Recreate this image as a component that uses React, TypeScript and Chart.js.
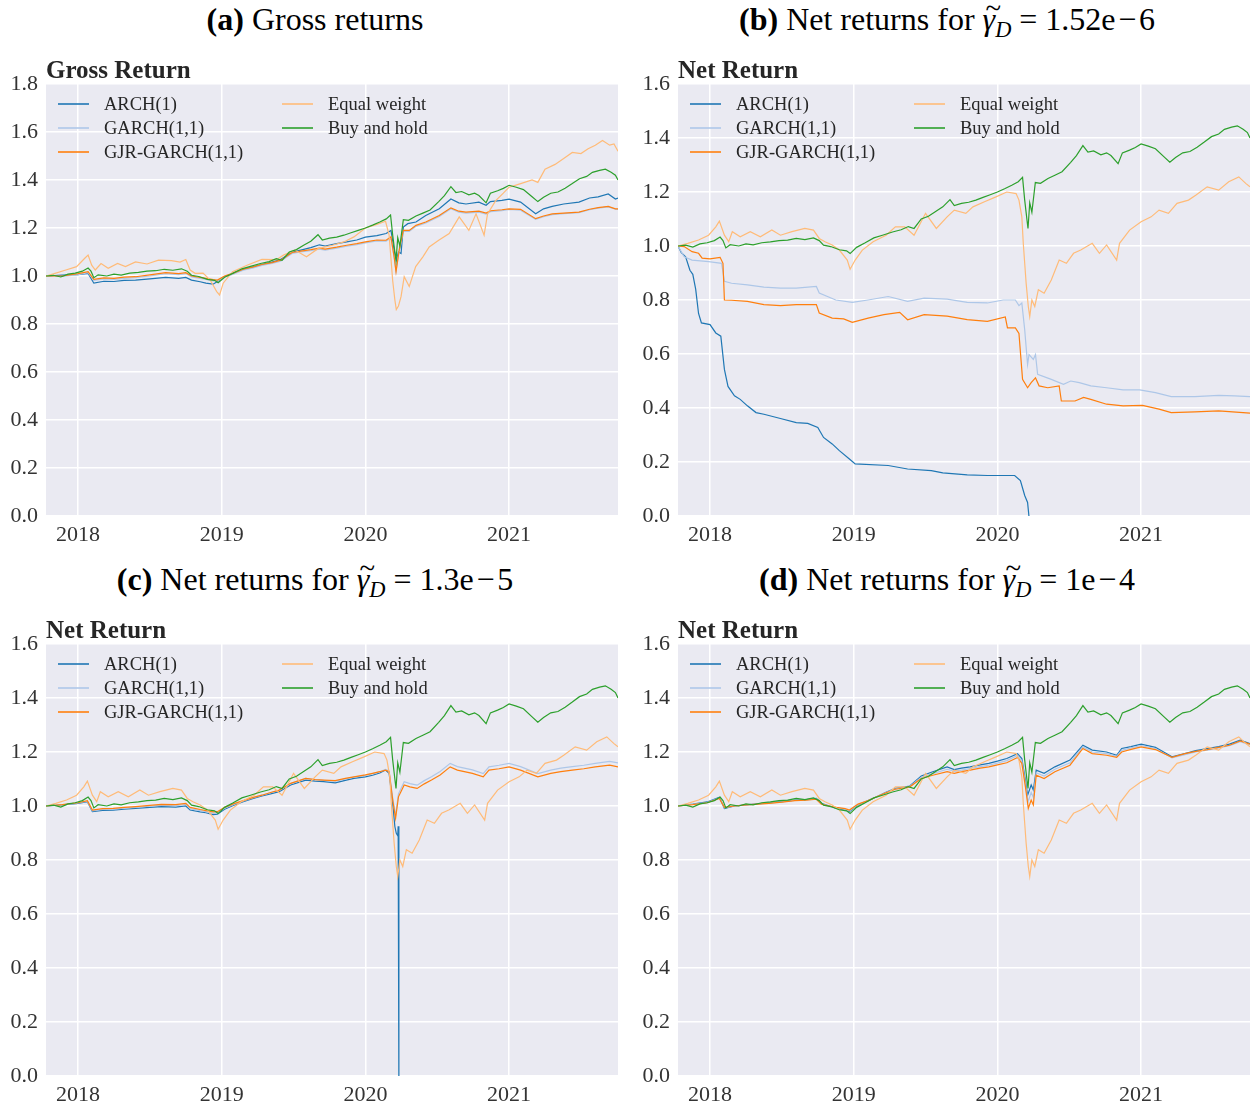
import React, { useEffect, useRef } from "react";
import { Chart, registerables } from "chart.js";

Chart.register(...registerables);

type Pt = [number, number];

const SERIF = '"Liberation Serif", "DejaVu Serif", serif';

// ---------- axis data ----------
const yearTicks = [2018, 2019, 2020, 2021];
const xMin = 2017.777;
const xMax = 2021.758;
const yTicksGross = [0, 0.2, 0.4, 0.6, 0.8, 1.0, 1.2, 1.4, 1.6, 1.8];
const yTicksNet = [0, 0.2, 0.4, 0.6, 0.8, 1.0, 1.2, 1.4, 1.6];

const seriesLabels = ["ARCH(1)", "GARCH(1,1)", "GJR-GARCH(1,1)", "Equal weight", "Buy and hold"];
const seriesColors = ["#1f77b4", "#aec7e8", "#ff7f0e", "#ffbb78", "#2ca02c"];

const panelLetters = ["(a)", "(b)", "(c)", "(d)"];
const panelGammas = ["", "1.52e\u200a\u2212\u200a6", "1.3e\u200a\u2212\u200a5", "1e\u200a\u2212\u200a4"];
const innerTitles = ["Gross Return", "Net Return", "Net Return", "Net Return"];

// ---------- series data: [year, value] ----------
const buyHold: Pt[] = [
  [2017.777, 1.0], [2017.83, 1.003], [2017.88, 0.996], [2017.93, 1.008], [2017.98, 1.012], [2018.03, 1.02],
  [2018.07, 1.033], [2018.09, 1.02], [2018.11, 0.993], [2018.14, 1.005], [2018.2, 1.0], [2018.25, 1.008],
  [2018.3, 1.004], [2018.36, 1.012], [2018.42, 1.015], [2018.48, 1.02], [2018.54, 1.022], [2018.6, 1.028],
  [2018.66, 1.024], [2018.72, 1.03], [2018.76, 1.02], [2018.79, 1.003], [2018.84, 0.998], [2018.9, 0.986],
  [2018.95, 0.982], [2018.975, 0.972], [2019.02, 0.995], [2019.08, 1.012], [2019.14, 1.03], [2019.2, 1.04],
  [2019.27, 1.052], [2019.33, 1.06], [2019.38, 1.072], [2019.42, 1.065], [2019.47, 1.1], [2019.52, 1.11],
  [2019.57, 1.128], [2019.62, 1.145], [2019.67, 1.172], [2019.7, 1.15], [2019.75, 1.158], [2019.8, 1.162],
  [2019.85, 1.17], [2019.9, 1.18], [2019.95, 1.19], [2020.0, 1.2], [2020.05, 1.212], [2020.1, 1.225],
  [2020.145, 1.238], [2020.175, 1.254], [2020.19, 1.17], [2020.205, 1.1], [2020.213, 1.065], [2020.225, 1.16],
  [2020.24, 1.125], [2020.264, 1.235], [2020.3, 1.232], [2020.352, 1.25], [2020.4, 1.262], [2020.45, 1.275],
  [2020.51, 1.31], [2020.55, 1.335], [2020.595, 1.372], [2020.63, 1.348], [2020.67, 1.352], [2020.72, 1.338],
  [2020.76, 1.345], [2020.79, 1.335], [2020.84, 1.305], [2020.87, 1.345], [2020.92, 1.355], [2020.96, 1.365],
  [2021.0, 1.378], [2021.05, 1.37], [2021.1, 1.36], [2021.16, 1.33], [2021.2, 1.31], [2021.24, 1.328],
  [2021.29, 1.345], [2021.34, 1.35], [2021.39, 1.366], [2021.44, 1.385], [2021.49, 1.405], [2021.54, 1.415],
  [2021.58, 1.432], [2021.63, 1.44], [2021.67, 1.445], [2021.71, 1.432], [2021.74, 1.42], [2021.758, 1.4],
];

const equalGross: Pt[] = [
  [2017.777, 1.0], [2017.84, 1.011], [2017.915, 1.025], [2017.99, 1.039], [2018.045, 1.073], [2018.07, 1.087],
  [2018.095, 1.045], [2018.12, 1.025], [2018.16, 1.052], [2018.21, 1.032], [2018.275, 1.052], [2018.33, 1.039],
  [2018.4, 1.059], [2018.48, 1.05], [2018.56, 1.066], [2018.65, 1.064], [2018.71, 1.058], [2018.75, 1.069],
  [2018.78, 1.025], [2018.815, 1.011], [2018.87, 1.012], [2018.92, 0.983], [2018.965, 0.935], [2018.985, 0.921],
  [2019.01, 0.97], [2019.075, 1.018], [2019.18, 1.046], [2019.28, 1.069], [2019.38, 1.068], [2019.43, 1.087],
  [2019.51, 1.108], [2019.59, 1.08], [2019.67, 1.114], [2019.77, 1.128], [2019.85, 1.142], [2019.92, 1.163],
  [2020.0, 1.2], [2020.08, 1.215], [2020.14, 1.228], [2020.165, 1.17], [2020.19, 0.98], [2020.205, 0.9],
  [2020.215, 0.86], [2020.23, 0.875], [2020.248, 0.914], [2020.27, 0.997], [2020.305, 0.956], [2020.35, 1.039],
  [2020.4, 1.08], [2020.444, 1.121], [2020.51, 1.149], [2020.583, 1.177], [2020.653, 1.246], [2020.72, 1.19],
  [2020.77, 1.259], [2020.826, 1.17], [2020.85, 1.259], [2020.907, 1.314], [2020.96, 1.345], [2021.0, 1.37],
  [2021.07, 1.383], [2021.16, 1.4], [2021.2, 1.39], [2021.25, 1.445], [2021.32, 1.465], [2021.38, 1.49],
  [2021.44, 1.515], [2021.5, 1.51], [2021.55, 1.53], [2021.6, 1.545], [2021.65, 1.565], [2021.7, 1.545],
  [2021.73, 1.55], [2021.758, 1.52],
];

const equalNet: Pt[] = [
  [2017.777, 1.0], [2017.845, 1.01], [2017.92, 1.022], [2017.99, 1.04], [2018.04, 1.071], [2018.065, 1.092],
  [2018.1, 1.04], [2018.13, 1.016], [2018.155, 1.053], [2018.21, 1.034], [2018.28, 1.053], [2018.35, 1.034],
  [2018.43, 1.059], [2018.49, 1.04], [2018.57, 1.053], [2018.66, 1.065], [2018.72, 1.059], [2018.76, 1.028],
  [2018.8, 1.016], [2018.85, 1.004], [2018.9, 0.985], [2018.955, 0.948], [2018.975, 0.914], [2019.01, 0.948],
  [2019.06, 0.985], [2019.135, 1.016], [2019.225, 1.04], [2019.29, 1.071], [2019.355, 1.071], [2019.42, 1.04],
  [2019.5, 1.121], [2019.575, 1.065], [2019.65, 1.108], [2019.7, 1.133], [2019.78, 1.121], [2019.83, 1.145],
  [2019.91, 1.164], [2019.99, 1.182], [2020.065, 1.2], [2020.13, 1.194], [2020.15, 1.17], [2020.17, 1.108],
  [2020.18, 1.01], [2020.2, 0.862], [2020.215, 0.776], [2020.225, 0.739], [2020.24, 0.8], [2020.26, 0.776],
  [2020.285, 0.838], [2020.325, 0.825], [2020.375, 0.874], [2020.43, 0.948], [2020.48, 0.936], [2020.53, 0.973],
  [2020.58, 0.985], [2020.66, 1.01], [2020.71, 0.973], [2020.76, 1.004], [2020.83, 0.948], [2020.85, 1.01],
  [2020.92, 1.059], [2021.0, 1.09], [2021.07, 1.108], [2021.125, 1.133], [2021.19, 1.121], [2021.25, 1.158],
  [2021.33, 1.17], [2021.38, 1.188], [2021.46, 1.219], [2021.54, 1.207], [2021.61, 1.238], [2021.68, 1.256],
  [2021.73, 1.231], [2021.758, 1.219],
];

// (a) gross
const archGross: Pt[] = [
  [2017.777, 1.0], [2017.89, 1.004], [2018.0, 1.006], [2018.07, 1.011], [2018.11, 0.97], [2018.18, 0.978],
  [2018.25, 0.977], [2018.32, 0.982], [2018.4, 0.983], [2018.5, 0.988], [2018.61, 0.994], [2018.7, 0.99],
  [2018.75, 0.994], [2018.79, 0.983], [2018.85, 0.976], [2018.89, 0.97], [2018.94, 0.966], [2018.97, 0.977],
  [2019.02, 0.997], [2019.08, 1.012], [2019.15, 1.028], [2019.22, 1.038], [2019.28, 1.048], [2019.35, 1.058],
  [2019.41, 1.069], [2019.49, 1.1], [2019.55, 1.108], [2019.62, 1.118], [2019.68, 1.13], [2019.72, 1.125],
  [2019.8, 1.135], [2019.87, 1.142], [2019.94, 1.15], [2020.0, 1.162], [2020.08, 1.168], [2020.144, 1.177],
  [2020.178, 1.19], [2020.2, 1.108], [2020.216, 1.066], [2020.23, 1.1], [2020.248, 1.094], [2020.264, 1.204],
  [2020.295, 1.218], [2020.352, 1.225], [2020.42, 1.252], [2020.514, 1.28], [2020.595, 1.321], [2020.65, 1.305],
  [2020.7, 1.3], [2020.79, 1.308], [2020.84, 1.295], [2020.87, 1.31], [2020.95, 1.315], [2021.0, 1.32],
  [2021.08, 1.308], [2021.185, 1.259], [2021.24, 1.28], [2021.3, 1.29], [2021.38, 1.3], [2021.486, 1.308],
  [2021.56, 1.325], [2021.62, 1.33], [2021.69, 1.342], [2021.74, 1.321], [2021.758, 1.325],
];
const garchGross: Pt[] = [
  [2017.777, 1.0], [2017.89, 0.998], [2018.0, 1.006], [2018.07, 1.014], [2018.11, 0.982], [2018.18, 0.988],
  [2018.25, 0.986], [2018.32, 0.99], [2018.4, 0.993], [2018.5, 1.0], [2018.61, 1.01], [2018.7, 1.006],
  [2018.75, 1.01], [2018.79, 0.996], [2018.85, 0.99], [2018.89, 0.986], [2018.94, 0.98], [2018.97, 0.98],
  [2019.02, 0.996], [2019.08, 1.008], [2019.15, 1.024], [2019.22, 1.034], [2019.28, 1.044], [2019.35, 1.052],
  [2019.41, 1.062], [2019.49, 1.094], [2019.55, 1.1], [2019.62, 1.106], [2019.68, 1.112], [2019.72, 1.108],
  [2019.8, 1.116], [2019.87, 1.124], [2019.94, 1.131], [2020.0, 1.138], [2020.08, 1.146], [2020.144, 1.145],
  [2020.178, 1.158], [2020.2, 1.076], [2020.213, 1.022], [2020.235, 1.104], [2020.264, 1.186], [2020.305, 1.186],
  [2020.352, 1.207], [2020.42, 1.221], [2020.514, 1.248], [2020.595, 1.28], [2020.65, 1.266], [2020.7, 1.262],
  [2020.79, 1.266], [2020.84, 1.258], [2020.87, 1.268], [2020.95, 1.272], [2021.0, 1.277], [2021.08, 1.274],
  [2021.185, 1.236], [2021.24, 1.247], [2021.3, 1.256], [2021.38, 1.26], [2021.486, 1.264], [2021.56, 1.276],
  [2021.62, 1.283], [2021.69, 1.288], [2021.74, 1.279], [2021.758, 1.278],
];
const gjrGross: Pt[] = [
  [2017.777, 1.0], [2017.89, 1.0], [2018.0, 1.01], [2018.07, 1.018], [2018.11, 0.986], [2018.18, 0.992],
  [2018.25, 0.99], [2018.32, 0.995], [2018.4, 0.997], [2018.5, 1.005], [2018.61, 1.014], [2018.7, 1.01],
  [2018.75, 1.014], [2018.79, 1.0], [2018.85, 0.994], [2018.89, 0.99], [2018.94, 0.985], [2018.97, 0.983],
  [2019.02, 1.0], [2019.08, 1.012], [2019.15, 1.028], [2019.22, 1.038], [2019.28, 1.048], [2019.35, 1.056],
  [2019.41, 1.066], [2019.49, 1.098], [2019.55, 1.104], [2019.62, 1.11], [2019.68, 1.116], [2019.72, 1.112],
  [2019.8, 1.12], [2019.87, 1.128], [2019.94, 1.135], [2020.0, 1.142], [2020.08, 1.15], [2020.144, 1.149],
  [2020.178, 1.163], [2020.2, 1.08], [2020.213, 1.018], [2020.235, 1.108], [2020.264, 1.19], [2020.305, 1.19],
  [2020.352, 1.211], [2020.42, 1.225], [2020.514, 1.252], [2020.595, 1.284], [2020.65, 1.27], [2020.7, 1.266],
  [2020.79, 1.27], [2020.84, 1.262], [2020.87, 1.272], [2020.95, 1.276], [2021.0, 1.28], [2021.08, 1.278],
  [2021.185, 1.239], [2021.24, 1.25], [2021.3, 1.259], [2021.38, 1.262], [2021.486, 1.266], [2021.56, 1.278],
  [2021.62, 1.285], [2021.69, 1.29], [2021.74, 1.28], [2021.758, 1.28],
];

// (b) gamma = 1.52e-6
const archLow: Pt[] = [
  [2017.777, 1.0], [2017.8, 0.975], [2017.83, 0.96], [2017.86, 0.91], [2017.88, 0.895], [2017.9, 0.84],
  [2017.92, 0.75], [2017.94, 0.715], [2018.0, 0.709], [2018.04, 0.678], [2018.075, 0.666], [2018.1, 0.543],
  [2018.125, 0.48], [2018.17, 0.445], [2018.21, 0.432], [2018.26, 0.408], [2018.32, 0.383], [2018.375, 0.377],
  [2018.49, 0.361], [2018.6, 0.346], [2018.68, 0.343], [2018.75, 0.328], [2018.79, 0.291], [2018.85, 0.267],
  [2018.9, 0.242], [2018.97, 0.211], [2019.01, 0.193], [2019.24, 0.187], [2019.375, 0.174], [2019.54, 0.168],
  [2019.62, 0.16], [2019.79, 0.152], [2019.93, 0.15], [2020.12, 0.15], [2020.16, 0.131], [2020.19, 0.076],
  [2020.21, 0.05], [2020.225, -0.03],
];
const garchLow: Pt[] = [
  [2017.777, 1.0], [2017.82, 0.96], [2017.875, 0.948], [2017.99, 0.942], [2018.08, 0.936], [2018.1, 0.869],
  [2018.15, 0.862], [2018.26, 0.856], [2018.375, 0.848], [2018.49, 0.844], [2018.6, 0.844], [2018.74, 0.85],
  [2018.76, 0.826], [2018.875, 0.8], [2018.99, 0.791], [2019.1, 0.8], [2019.24, 0.813], [2019.375, 0.795],
  [2019.49, 0.807], [2019.65, 0.803], [2019.79, 0.791], [2019.93, 0.789], [2020.04, 0.8], [2020.125, 0.8],
  [2020.15, 0.779], [2020.17, 0.789], [2020.19, 0.69], [2020.21, 0.561], [2020.22, 0.598], [2020.25, 0.58],
  [2020.265, 0.598], [2020.28, 0.525], [2020.375, 0.506], [2020.46, 0.488], [2020.51, 0.5], [2020.57, 0.494],
  [2020.65, 0.482], [2020.76, 0.475], [2020.875, 0.467], [2020.99, 0.467], [2021.1, 0.457], [2021.21, 0.442],
  [2021.375, 0.442], [2021.54, 0.447], [2021.65, 0.445], [2021.758, 0.442],
];
const gjrLow: Pt[] = [
  [2017.777, 1.0], [2017.82, 0.998], [2017.875, 0.979], [2017.92, 0.973], [2017.945, 0.955], [2018.0, 0.952],
  [2018.07, 0.958], [2018.09, 0.936], [2018.1, 0.8], [2018.15, 0.799], [2018.26, 0.795], [2018.375, 0.783],
  [2018.49, 0.779], [2018.6, 0.783], [2018.74, 0.783], [2018.76, 0.752], [2018.85, 0.733], [2018.93, 0.73],
  [2018.99, 0.717], [2019.1, 0.733], [2019.21, 0.746], [2019.32, 0.754], [2019.375, 0.727], [2019.49, 0.746],
  [2019.65, 0.74], [2019.79, 0.727], [2019.93, 0.721], [2020.055, 0.737], [2020.07, 0.697], [2020.125, 0.697],
  [2020.15, 0.676], [2020.175, 0.506], [2020.21, 0.475], [2020.235, 0.494], [2020.265, 0.512], [2020.29, 0.482],
  [2020.35, 0.475], [2020.43, 0.482], [2020.445, 0.426], [2020.54, 0.426], [2020.6, 0.439], [2020.65, 0.432],
  [2020.76, 0.414], [2020.875, 0.408], [2021.01, 0.41], [2021.125, 0.396], [2021.21, 0.383], [2021.375, 0.386],
  [2021.54, 0.389], [2021.758, 0.381],
];

// (c) gamma = 1.3e-5
const archMid: Pt[] = [
  [2017.777, 1.0], [2017.89, 1.004], [2018.0, 1.01], [2018.065, 1.016], [2018.1, 0.979], [2018.17, 0.984],
  [2018.245, 0.985], [2018.32, 0.988], [2018.4, 0.991], [2018.5, 0.995], [2018.58, 0.998], [2018.68, 0.996],
  [2018.75, 1.0], [2018.78, 0.985], [2018.85, 0.978], [2018.89, 0.975], [2018.94, 0.968], [2018.97, 0.97],
  [2019.02, 0.988], [2019.08, 1.002], [2019.15, 1.016], [2019.22, 1.028], [2019.28, 1.037], [2019.34, 1.045],
  [2019.4, 1.053], [2019.48, 1.078], [2019.585, 1.096], [2019.65, 1.092], [2019.71, 1.09], [2019.79, 1.086],
  [2019.86, 1.095], [2019.92, 1.102], [2020.0, 1.108], [2020.05, 1.114], [2020.1, 1.122], [2020.14, 1.133],
  [2020.165, 1.121], [2020.19, 1.01], [2020.205, 0.924], [2020.215, 0.899], [2020.225, 0.89], [2020.228, 0.925],
  [2020.233, -0.03],
];
const garchMid: Pt[] = [
  [2017.777, 1.0], [2017.89, 1.004], [2018.0, 1.011], [2018.065, 1.018], [2018.1, 0.982], [2018.17, 0.987],
  [2018.245, 0.988], [2018.32, 0.992], [2018.4, 0.995], [2018.5, 0.999], [2018.58, 1.003], [2018.68, 1.001],
  [2018.75, 1.006], [2018.78, 0.99], [2018.85, 0.983], [2018.89, 0.979], [2018.94, 0.973], [2018.97, 0.975],
  [2019.02, 0.992], [2019.08, 1.005], [2019.15, 1.019], [2019.22, 1.031], [2019.28, 1.04], [2019.34, 1.049],
  [2019.4, 1.058], [2019.48, 1.083], [2019.585, 1.102], [2019.65, 1.098], [2019.71, 1.095], [2019.79, 1.092],
  [2019.86, 1.1], [2019.92, 1.107], [2020.0, 1.114], [2020.05, 1.12], [2020.1, 1.127], [2020.14, 1.136],
  [2020.165, 1.13], [2020.19, 1.03], [2020.21, 0.965], [2020.23, 1.045], [2020.27, 1.09], [2020.31, 1.083],
  [2020.36, 1.077], [2020.41, 1.094], [2020.46, 1.108], [2020.52, 1.128], [2020.59, 1.158], [2020.64, 1.146],
  [2020.745, 1.134], [2020.82, 1.12], [2020.86, 1.145], [2020.93, 1.151], [2021.0, 1.158], [2021.08, 1.146],
  [2021.2, 1.12], [2021.29, 1.133], [2021.36, 1.14], [2021.44, 1.146], [2021.52, 1.151], [2021.6, 1.158],
  [2021.7, 1.165], [2021.758, 1.16],
];
const gjrMid: Pt[] = [
  [2017.777, 1.0], [2017.89, 1.005], [2018.0, 1.012], [2018.065, 1.02], [2018.1, 0.985], [2018.17, 0.99],
  [2018.245, 0.991], [2018.32, 0.995], [2018.4, 0.998], [2018.5, 1.002], [2018.58, 1.006], [2018.68, 1.005],
  [2018.75, 1.01], [2018.78, 0.995], [2018.85, 0.987], [2018.89, 0.983], [2018.94, 0.978], [2018.97, 0.979],
  [2019.02, 0.995], [2019.08, 1.008], [2019.15, 1.02], [2019.22, 1.032], [2019.28, 1.04], [2019.34, 1.05],
  [2019.4, 1.059], [2019.48, 1.084], [2019.585, 1.102], [2019.65, 1.098], [2019.71, 1.096], [2019.79, 1.094],
  [2019.86, 1.102], [2019.92, 1.108], [2020.0, 1.115], [2020.05, 1.121], [2020.1, 1.127], [2020.14, 1.133],
  [2020.165, 1.127], [2020.19, 1.022], [2020.21, 0.954], [2020.23, 1.034], [2020.27, 1.078], [2020.31, 1.071],
  [2020.36, 1.065], [2020.41, 1.082], [2020.46, 1.096], [2020.52, 1.115], [2020.59, 1.145], [2020.64, 1.133],
  [2020.745, 1.121], [2020.82, 1.108], [2020.86, 1.133], [2020.93, 1.138], [2021.0, 1.145], [2021.08, 1.133],
  [2021.2, 1.108], [2021.29, 1.121], [2021.36, 1.127], [2021.44, 1.133], [2021.52, 1.138], [2021.6, 1.145],
  [2021.7, 1.151], [2021.758, 1.145],
];

// (d) gamma = 1e-4
const archHigh: Pt[] = [
  [2017.777, 1.0], [2017.88, 1.007], [2017.98, 1.015], [2018.065, 1.032], [2018.1, 0.991], [2018.17, 1.0],
  [2018.25, 1.004], [2018.33, 1.008], [2018.41, 1.012], [2018.5, 1.016], [2018.59, 1.022], [2018.67, 1.024],
  [2018.74, 1.028], [2018.775, 1.01], [2018.83, 1.0], [2018.88, 0.991], [2018.94, 0.985], [2018.97, 0.979],
  [2019.03, 1.004], [2019.1, 1.02], [2019.16, 1.034], [2019.22, 1.05], [2019.29, 1.065], [2019.39, 1.074],
  [2019.47, 1.111], [2019.55, 1.127], [2019.65, 1.145], [2019.7, 1.135], [2019.75, 1.14], [2019.81, 1.145],
  [2019.88, 1.152], [2019.94, 1.158], [2020.0, 1.166], [2020.065, 1.176], [2020.14, 1.194], [2020.17, 1.176],
  [2020.195, 1.096], [2020.21, 1.04], [2020.235, 1.078], [2020.25, 1.059], [2020.27, 1.133], [2020.325, 1.121],
  [2020.4, 1.145], [2020.505, 1.17], [2020.595, 1.225], [2020.66, 1.207], [2020.76, 1.2], [2020.83, 1.188],
  [2020.865, 1.213], [2020.93, 1.22], [2021.0, 1.229], [2021.1, 1.217], [2021.215, 1.182], [2021.305, 1.194],
  [2021.38, 1.205], [2021.46, 1.213], [2021.54, 1.22], [2021.615, 1.229], [2021.69, 1.244], [2021.758, 1.231],
];
const garchHigh: Pt[] = [
  [2017.777, 1.0], [2017.88, 1.006], [2017.98, 1.013], [2018.065, 1.03], [2018.1, 0.993], [2018.17, 1.0],
  [2018.25, 1.004], [2018.33, 1.007], [2018.41, 1.011], [2018.5, 1.015], [2018.59, 1.021], [2018.67, 1.023],
  [2018.74, 1.026], [2018.775, 1.008], [2018.83, 1.0], [2018.88, 0.993], [2018.94, 0.987], [2018.97, 0.982],
  [2019.03, 1.005], [2019.1, 1.02], [2019.16, 1.034], [2019.22, 1.049], [2019.29, 1.063], [2019.39, 1.072],
  [2019.47, 1.106], [2019.55, 1.12], [2019.65, 1.136], [2019.7, 1.128], [2019.75, 1.133], [2019.81, 1.139],
  [2019.88, 1.146], [2019.94, 1.151], [2020.0, 1.159], [2020.065, 1.168], [2020.14, 1.187], [2020.17, 1.167],
  [2020.195, 1.083], [2020.213, 1.015], [2020.235, 1.05], [2020.25, 1.032], [2020.27, 1.123], [2020.325, 1.111],
  [2020.4, 1.136], [2020.505, 1.16], [2020.595, 1.219], [2020.66, 1.2], [2020.76, 1.194], [2020.83, 1.184],
  [2020.865, 1.206], [2020.93, 1.215], [2021.0, 1.224], [2021.1, 1.213], [2021.215, 1.178], [2021.305, 1.19],
  [2021.38, 1.2], [2021.46, 1.207], [2021.54, 1.215], [2021.615, 1.223], [2021.69, 1.238], [2021.758, 1.226],
];
const gjrHigh: Pt[] = [
  [2017.777, 1.0], [2017.88, 1.005], [2017.98, 1.012], [2018.065, 1.028], [2018.1, 0.995], [2018.17, 1.0],
  [2018.25, 1.004], [2018.33, 1.007], [2018.41, 1.01], [2018.5, 1.014], [2018.59, 1.02], [2018.67, 1.022],
  [2018.74, 1.025], [2018.775, 1.007], [2018.83, 1.0], [2018.88, 0.995], [2018.94, 0.99], [2018.97, 0.985],
  [2019.03, 1.007], [2019.1, 1.02], [2019.16, 1.034], [2019.22, 1.048], [2019.29, 1.062], [2019.39, 1.071],
  [2019.47, 1.102], [2019.55, 1.114], [2019.65, 1.127], [2019.7, 1.121], [2019.75, 1.127], [2019.81, 1.133],
  [2019.88, 1.14], [2019.94, 1.145], [2020.0, 1.152], [2020.065, 1.16], [2020.14, 1.18], [2020.17, 1.158],
  [2020.195, 1.071], [2020.215, 0.991], [2020.235, 1.022], [2020.25, 1.004], [2020.27, 1.114], [2020.325, 1.102],
  [2020.4, 1.127], [2020.505, 1.151], [2020.595, 1.213], [2020.66, 1.194], [2020.76, 1.188], [2020.83, 1.18],
  [2020.865, 1.2], [2020.93, 1.21], [2021.0, 1.219], [2021.1, 1.209], [2021.215, 1.18], [2021.305, 1.194],
  [2021.38, 1.202], [2021.46, 1.209], [2021.54, 1.217], [2021.615, 1.225], [2021.69, 1.241], [2021.758, 1.229],
];

const panelSeries: Pt[][][] = [
  [archGross, garchGross, gjrGross, equalGross, buyHold],
  [archLow, garchLow, gjrLow, equalNet, buyHold],
  [archMid, garchMid, gjrMid, equalNet, buyHold],
  [archHigh, garchHigh, gjrHigh, equalNet, buyHold],
];
const panelYTicks = [yTicksGross, yTicksNet, yTicksNet, yTicksNet];

// ---------- layout ----------
const CANVAS_H = 510;
const PLOT_TOP = 34;
const AXIS_W = 46;
const AXIS_H = 44;
const panelBoxes = [
  { left: 0, top: 50, width: 628, padRight: 10 },
  { left: 632, top: 50, width: 624, padRight: 6 },
  { left: 0, top: 610, width: 628, padRight: 10 },
  { left: 632, top: 610, width: 624, padRight: 6 },
];

function Panel({ index }: { index: number }) {
  const ref = useRef<HTMLCanvasElement>(null);
  const box = panelBoxes[index];

  useEffect(() => {
    const canvas = ref.current;
    if (!canvas) return;
    const ticks = panelYTicks[index];
    const title = innerTitles[index];

    const bgPlugin = {
      id: "plotBg",
      beforeDraw(chart: any) {
        const { ctx, chartArea: a } = chart;
        ctx.save();
        ctx.fillStyle = "#eaeaf2";
        ctx.fillRect(a.left, a.top, a.right - a.left, a.bottom - a.top);
        ctx.restore();
      },
    };

    const overlayPlugin = {
      id: "overlay",
      afterDraw(chart: any) {
        const { ctx, chartArea: a } = chart;
        ctx.save();
        ctx.fillStyle = "#262626";
        ctx.textAlign = "left";
        ctx.textBaseline = "alphabetic";
        ctx.font = `bold 25px ${SERIF}`;
        ctx.fillText(title, a.left, a.top - 6);

        ctx.font = `18.5px ${SERIF}`;
        ctx.textBaseline = "middle";
        chart.data.datasets.forEach((ds: any, i: number) => {
          const col = i < 3 ? 0 : 1;
          const row = i < 3 ? i : i - 3;
          const x0 = a.left + 12 + col * 224;
          const y = a.top + 20 + row * 24;
          ctx.save();
          ctx.globalAlpha = 0.8;
          ctx.strokeStyle = ds.borderColor;
          ctx.lineWidth = 2;
          ctx.beginPath();
          ctx.moveTo(x0, y);
          ctx.lineTo(x0 + 31, y);
          ctx.stroke();
          ctx.restore();
          ctx.fillStyle = "#262626";
          ctx.fillText(ds.label, x0 + 46, y + 1);
        });
        ctx.restore();
      },
    };

    const chart = new Chart(canvas, {
      type: "line",
      data: {
        datasets: panelSeries[index].map((pts, i) => ({
          label: seriesLabels[i],
          data: pts.map(([x, y]) => ({ x, y })),
          borderColor: seriesColors[i],
          backgroundColor: seriesColors[i],
          borderWidth: 1.2,
          pointRadius: 0,
          tension: 0,
          fill: false,
          order: 5 - i,
        })),
      },
      options: {
        animation: false,
        responsive: false,
        devicePixelRatio: 1,
        events: [],
        layout: { padding: { top: PLOT_TOP, right: box.padRight, left: 0, bottom: 0 } },
        plugins: {
          legend: { display: false },
          title: { display: false },
          tooltip: { enabled: false },
        },
        scales: {
          x: {
            type: "linear",
            min: xMin,
            max: xMax,
            afterBuildTicks: (s: any) => {
              s.ticks = yearTicks.map((v) => ({ value: v }));
            },
            afterFit: (s: any) => {
              s.height = AXIS_H;
            },
            grid: { color: "#ffffff", lineWidth: 1.5, drawTicks: false },
            border: { display: false },
            ticks: {
              padding: 6,
              color: "#333333",
              font: { family: SERIF, size: 22 },
              maxRotation: 0,
              autoSkip: false,
              callback: (v: any) => String(v),
            },
          },
          y: {
            type: "linear",
            min: ticks[0],
            max: ticks[ticks.length - 1],
            afterBuildTicks: (s: any) => {
              s.ticks = ticks.map((v) => ({ value: v }));
            },
            afterFit: (s: any) => {
              s.width = AXIS_W;
            },
            grid: { color: "#ffffff", lineWidth: 1.5, drawTicks: false },
            border: { display: false },
            ticks: {
              padding: 8,
              color: "#333333",
              font: { family: SERIF, size: 22 },
              autoSkip: false,
              callback: (v: any) => Number(v).toFixed(1),
            },
          },
        },
      },
      plugins: [bgPlugin, overlayPlugin],
    } as any);
    return () => chart.destroy();
  }, [index]);

  return (
    <canvas
      ref={ref}
      width={box.width}
      height={CANVAS_H}
      style={{ position: "absolute", left: box.left, top: box.top, width: box.width, height: CANVAS_H }}
    />
  );
}

function Caption({ index }: { index: number }) {
  const left = index % 2 === 0 ? 0 : 632;
  const top = index < 2 ? -1 : 559;
  const gamma = panelGammas[index];
  return (
    <div
      style={{
        position: "absolute",
        left,
        top,
        width: 630,
        textAlign: "center",
        fontFamily: SERIF,
        fontSize: 32,
        lineHeight: "40px",
        color: "#000",
        whiteSpace: "nowrap",
      }}
    >
      <b>{panelLetters[index]}</b>{" "}
      {index === 0 ? (
        "Gross returns"
      ) : (
        <>
          {"Net returns for "}
          <span style={{ position: "relative", display: "inline-block", fontStyle: "italic" }}>
            {"\u03b3"}
            <span
              style={{
                position: "absolute",
                left: "0.1em",
                top: "-0.38em",
                fontStyle: "normal",
                fontSize: "0.9em",
              }}
            >
              {"~"}
            </span>
          </span>
          <span style={{ fontStyle: "italic", fontSize: "0.7em", position: "relative", top: "0.3em" }}>D</span>
          {" = " + gamma}
        </>
      )}
    </div>
  );
}

export default function App() {
  return (
    <div
      style={{
        position: "absolute",
        left: 0,
        top: 0,
        width: 1256,
        height: 1108,
        background: "#ffffff",
        overflow: "hidden",
      }}
    >
      {[0, 1, 2, 3].map((i) => (
        <Caption key={`c${i}`} index={i} />
      ))}
      {[0, 1, 2, 3].map((i) => (
        <Panel key={`p${i}`} index={i} />
      ))}
    </div>
  );
}
